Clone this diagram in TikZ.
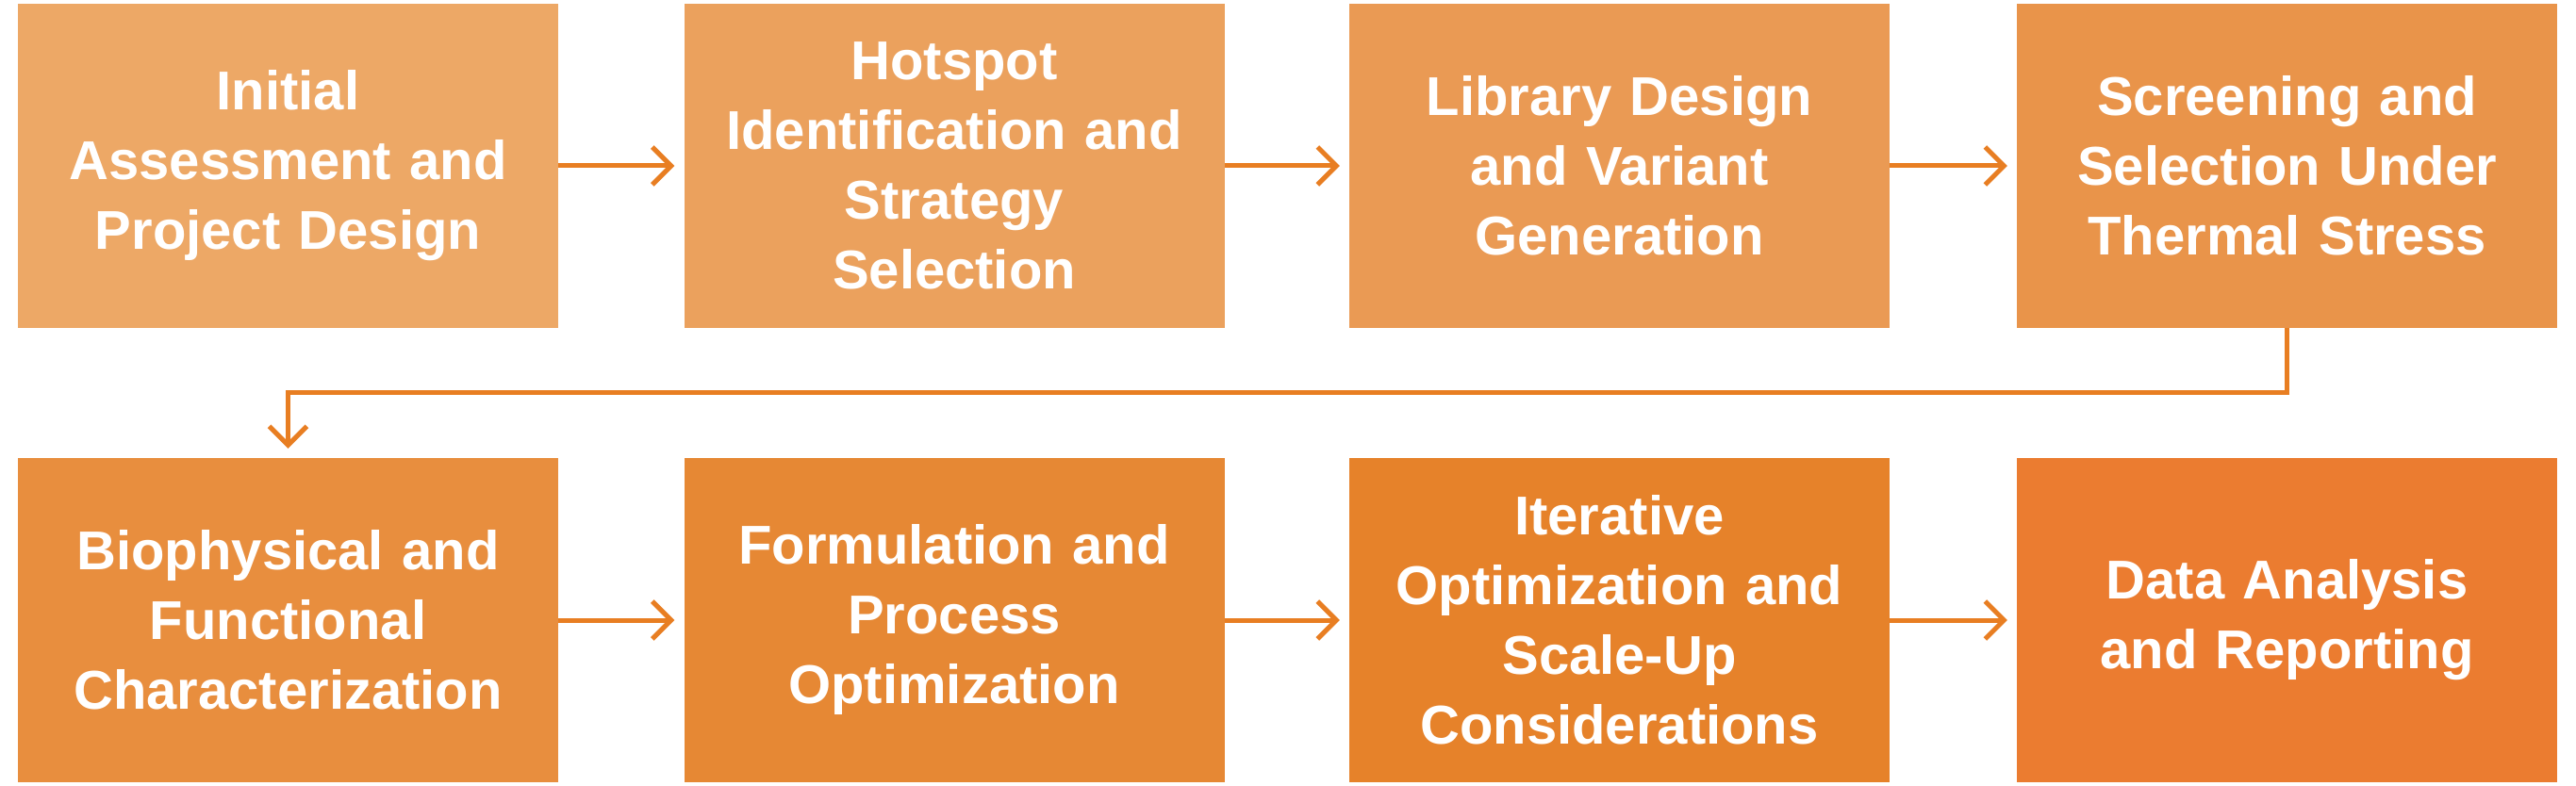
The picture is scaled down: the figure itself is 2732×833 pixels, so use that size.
\documentclass[tikz,border=0pt]{standalone}
\usepackage{fontspec}
\setmainfont{Liberation Sans}
\usetikzlibrary{arrows.meta}
\definecolor{c1}{HTML}{EDA866}
\definecolor{c2}{HTML}{EBA15D}
\definecolor{c3}{HTML}{EA9A54}
\definecolor{c4}{HTML}{E9944A}
\definecolor{c5}{HTML}{E88E3E}
\definecolor{c6}{HTML}{E68834}
\definecolor{c7}{HTML}{E6822A}
\definecolor{c8}{HTML}{EB7C30}
\definecolor{ac}{HTML}{E87E22}
\tikzset{
  box/.style={minimum width=573pt, minimum height=344pt, inner sep=0pt, text=white,
    font=\fontsize{58}{74}\selectfont\bfseries, align=center, text width=540pt},
  conn/.style={draw=ac, line width=5pt, -{Straight Barb[length=20pt,width=40pt,line width=5pt]}}
}
\begin{document}
\begin{tikzpicture}[x=1pt,y=1pt]
\useasboundingbox (0,0) rectangle (2732,833);
\node[box,fill=c1] (b1) at (305.5,657) {Initial\\Assessment and\\Project Design};
\node[box,fill=c2] (b2) at (1012,657) {Hotspot\\Identification and\\Strategy\\Selection};
\node[box,fill=c3] (b3) at (1717.5,657) {Library Design\\and Variant\\Generation};
\node[box,fill=c4] (b4) at (2425.5,657) {Screening and\\Selection Under\\Thermal Stress};
\node[box,fill=c5] (b5) at (305.5,175) {Biophysical and\\Functional\\Characterization};
\node[box,fill=c6] (b6) at (1012,175) {Formulation and\\Process\\Optimization};
\node[box,fill=c7] (b7) at (1717.5,175) {Iterative\\Optimization and\\Scale-Up\\Considerations};
\node[box,fill=c8] (b8) at (2425.5,175) {Data Analysis\\and Reporting};
\draw[conn] (b1.east) -- ([xshift=-10pt]b2.west);
\draw[conn] (b2.east) -- ([xshift=-10pt]b3.west);
\draw[conn] (b3.east) -- ([xshift=-10pt]b4.west);
\draw[conn] (b5.east) -- ([xshift=-10pt]b6.west);
\draw[conn] (b6.east) -- ([xshift=-10pt]b7.west);
\draw[conn] (b7.east) -- ([xshift=-10pt]b8.west);
\coordinate (m1) at (2425.5,416);
\coordinate (m2) at (305.5,416);
\draw[conn] (b4.south) -- (m1) -- (m2) -- ([yshift=10pt]b5.north);
\end{tikzpicture}
\end{document}
